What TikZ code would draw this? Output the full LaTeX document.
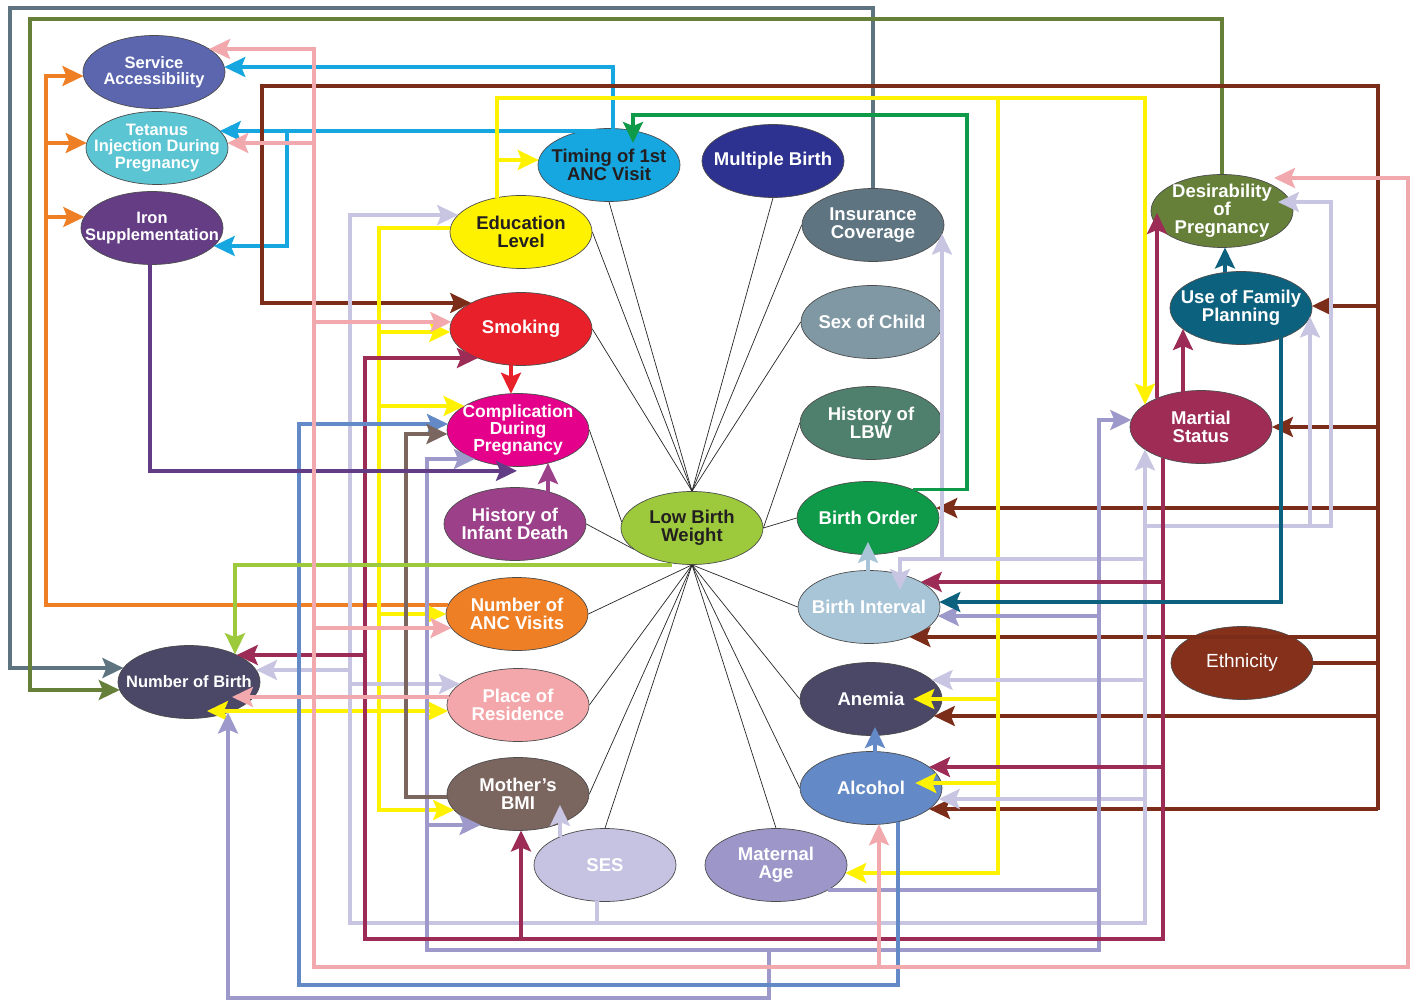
\documentclass[tikz,border=0pt]{standalone}
\usepackage{fontspec}
\setmainfont{Liberation Sans}
\usetikzlibrary{shapes.geometric,arrows.meta,calc,backgrounds}
% line colours
\definecolor{cSlate}{HTML}{5E7480}
\definecolor{cOlive}{HTML}{66803A}
\definecolor{cOrange}{HTML}{EE7F24}
\definecolor{cCyan}{HTML}{16A6E0}
\definecolor{cPink}{HTML}{F2A9AD}
\definecolor{cBrown}{HTML}{7B2D19}
\definecolor{cYellow}{HTML}{FFF200}
\definecolor{cLav}{HTML}{C8C5E3}
\definecolor{cMLav}{HTML}{9D99CA}
\definecolor{cMaroon}{HTML}{9C2B56}
\definecolor{cGreen}{HTML}{0E9A48}
\definecolor{cSteel}{HTML}{6389C6}
\definecolor{cBMI}{HTML}{7A655F}
\definecolor{cIron}{HTML}{623C84}
\definecolor{cTeal}{HTML}{0C627E}
\definecolor{cRed}{HTML}{E8202A}
\definecolor{cHID}{HTML}{9B4089}
\definecolor{cBI}{HTML}{A7C5D7}
\definecolor{cLBW}{HTML}{9DCA3C}
% node fills
\definecolor{fSA}{HTML}{5B66AF}
\definecolor{fTI}{HTML}{5CC5D3}
\definecolor{fIS}{HTML}{643D85}
\definecolor{fMB}{HTML}{2D3190}
\definecolor{fSex}{HTML}{8098A3}
\definecolor{fComp}{HTML}{E5008B}
\definecolor{fHLBW}{HTML}{4F7F6D}
\definecolor{fNoB}{HTML}{4A4767}
\definecolor{fPoR}{HTML}{F4A7AB}
\definecolor{fSES}{HTML}{C6C3E2}
\definecolor{fMA}{HTML}{9C96C9}
\definecolor{fMS}{HTML}{9E2C55}
\definecolor{fEth}{HTML}{84301B}
\definecolor{tDark}{HTML}{231F20}

\makeatletter
\pgfkeys{/bd/.cd, n/.store in=\bd@n, o/.store in=\bd@o, n=LBW, o=0}
\def\bd@rx{71}\def\bd@ry{36.5}
% er/el: point on right/left border at vertical offset o (page pixels, down positive)
\tikzdeclarecoordinatesystem{er}{\pgfkeys{/bd/.cd,#1}%
  \pgfmathsetmacro\bd@a{\bd@rx*sqrt(max(0,1-((\bd@o)/\bd@ry)^2))}%
  \pgfmathsetmacro\bd@b{0-(\bd@o)}%
  \pgfpointadd{\pgfpointanchor{\bd@n}{center}}{\pgfpoint{\bd@a pt}{\bd@b pt}}}
\tikzdeclarecoordinatesystem{el}{\pgfkeys{/bd/.cd,#1}%
  \pgfmathsetmacro\bd@a{0-\bd@rx*sqrt(max(0,1-((\bd@o)/\bd@ry)^2))}%
  \pgfmathsetmacro\bd@b{0-(\bd@o)}%
  \pgfpointadd{\pgfpointanchor{\bd@n}{center}}{\pgfpoint{\bd@a pt}{\bd@b pt}}}
% et/eb: point on top/bottom border at horizontal offset o
\tikzdeclarecoordinatesystem{et}{\pgfkeys{/bd/.cd,#1}%
  \pgfmathsetmacro\bd@a{\bd@o}%
  \pgfmathsetmacro\bd@b{\bd@ry*sqrt(max(0,1-((\bd@o)/\bd@rx)^2))}%
  \pgfpointadd{\pgfpointanchor{\bd@n}{center}}{\pgfpoint{\bd@a pt}{\bd@b pt}}}
\tikzdeclarecoordinatesystem{eb}{\pgfkeys{/bd/.cd,#1}%
  \pgfmathsetmacro\bd@a{\bd@o}%
  \pgfmathsetmacro\bd@b{0-\bd@ry*sqrt(max(0,1-((\bd@o)/\bd@rx)^2))}%
  \pgfpointadd{\pgfpointanchor{\bd@n}{center}}{\pgfpoint{\bd@a pt}{\bd@b pt}}}
\makeatother

\tikzset{
  bub/.style={ellipse, draw=black!70, line width=0.7pt, minimum width=142pt,
    minimum height=73pt, inner sep=-20pt, align=center, text=white,
    font=\bfseries\fontsize{18.5}{18}\selectfont},
  smallf/.style={font=\bfseries\fontsize{16.5}{16.5}\selectfont},
  midf/.style={font=\bfseries\fontsize{17.5}{17}\selectfont},
  spoke/.style={line width=0.7pt, draw=black!85},
  wire/.style={line width=3.3pt, draw=#1},
  arw/.style={line width=3.3pt, draw=#1, -{Stealth[length=21pt,width=20pt,inset=4pt]}},
}

\begin{document}
\begin{tikzpicture}[x=1pt,y=-1pt]
\useasboundingbox (0,0) rectangle (1411,1000);

% ---------- nodes ----------
\node[bub, smallf, fill=fSA] (SA) at (154,72) {Service\\Accessibility};
\node[bub, smallf, fill=fTI] (TI) at (157,148) {Tetanus\\Injection During\\Pregnancy};
\node[bub, smallf, fill=fIS] (IS) at (152,228) {Iron\\Supplementation};
\node[bub, fill=cCyan, text=tDark] (Tim) at (609,165) {Timing of 1st\\ANC Visit};
\node[bub, fill=fMB] (MB) at (773,161) {Multiple Birth};
\node[bub, fill=cSlate] (Ins) at (873,225) {Insurance\\Coverage};
\node[bub, fill=cYellow, text=tDark] (Edu) at (521,232) {Education\\Level};
\node[bub, fill=cRed] (Smk) at (521,329) {Smoking};
\node[bub, fill=fSex] (Sex) at (872,322) {Sex of Child};
\node[bub, midf, fill=fComp] (Comp) at (518,430) {Complication\\During\\Pregnancy};
\node[bub, fill=fHLBW] (HLBW) at (871,423) {History of\\LBW};
\node[bub, fill=cHID] (HID) at (515,524) {History of\\Infant Death};
\node[bub, fill=cLBW, text=tDark] (LBW) at (692,528) {Low Birth\\Weight};
\node[bub, fill=cGreen] (BO) at (868,518) {Birth Order};
\node[bub, fill=cBI] (BI) at (869,607) {Birth Interval};
\node[bub, fill=cOrange] (NANC) at (517,614) {Number of\\ANC Visits};
\node[bub, smallf, fill=fNoB] (NoB) at (189,682) {Number of Birth};
\node[bub, fill=fPoR] (PoR) at (518,705) {Place of\\Residence};
\node[bub, fill=cBMI] (BMI) at (518,794) {Mother’s\\BMI};
\node[bub, fill=fSES] (SES) at (605,865) {SES};
\node[bub, fill=fMA] (MA) at (776,865) {Maternal\\Age};
\node[bub, fill=fNoB] (Anem) at (871,699) {Anemia};
\node[bub, fill=cSteel] (Alc) at (871,788) {Alcohol};
\node[bub, fill=cOlive] (Des) at (1222,211) {Desirability\\of\\Pregnancy};
\node[bub, fill=cTeal] (UFP) at (1241,308) {Use of Family\\Planning};
\node[bub, fill=fMS] (MS) at (1201,427) {Martial\\Status};
\node[bub, fill=fEth, font=\fontsize{19}{19}\selectfont] (Eth) at (1242,663) {Ethnicity};

% ---------- background: spokes to Low Birth Weight ----------
\begin{scope}[on background layer]
\fill[white] (0,0) rectangle (1411,1000);
\foreach \s in {Tim.south, Edu.east, MB.south, Ins.west, Smk.east, Sex.west}
  \draw[spoke] (\s) -- (LBW.north);
\foreach \s in {HLBW.west, BO.west}
  \draw[spoke] (\s) -- (LBW.east);
\draw[spoke] (Comp.east) -- (LBW.175);
\draw[spoke] (HID.east) -- (LBW.200);
\foreach \s in {BI.west, NANC.east, PoR.east, BMI.east, SES.north, MA.north, Anem.west, Alc.west}
  \draw[spoke] (\s) -- (LBW.south);
\end{scope}

% ---------- Insurance Coverage (slate) ----------
\draw[arw=cSlate] (Ins.north) |- (10,8) |- (el cs:n=NoB,o=-14);
% ---------- Desirability (olive) ----------
\draw[arw=cOlive] (Des.north) |- (30,19) |- (el cs:n=NoB,o=8);
% ---------- Number of ANC visits (orange) ----------
\draw[wire=cOrange] (el cs:n=NANC,o=-9) -| (46,76);
\draw[arw=cOrange] (46,90) |- (el cs:n=SA,o=4);
\draw[arw=cOrange] (46,160) |- (el cs:n=TI,o=-5);
\draw[arw=cOrange] (46,230) |- (el cs:n=IS,o=-11);
% ---------- Timing of 1st ANC (cyan) ----------
\draw[arw=cCyan] (et cs:n=Tim,o=4) |- (er cs:n=SA,o=-5);
\draw[arw=cCyan] (et cs:n=Tim,o=-14) |- (er cs:n=TI,o=-17);
\draw[arw=cCyan] (287,131) |- (er cs:n=IS,o=18);
% ---------- Ethnicity (brown) ----------
\draw[wire=cBrown] (Eth.east) -- (1378,663);
\draw[arw=cBrown] (1378,810) -- (1378,86) -- (262,86) |- (el cs:n=Smk,o=-26);
\draw[arw=cBrown] (1378,320) |- (er cs:n=UFP,o=-2);
\draw[arw=cBrown] (1378,440) |- (er cs:n=MS,o=0);
\draw[arw=cBrown] (1378,520) |- (er cs:n=BO,o=-10);
\draw[arw=cBrown] (1378,650) |- (er cs:n=BI,o=30);
\draw[arw=cBrown] (1378,720) |- (er cs:n=Anem,o=17);
\draw[arw=cBrown] (1378,810) |- (er cs:n=Alc,o=21);
% ---------- Education Level (yellow) ----------
\draw[arw=cYellow] (et cs:n=Edu,o=-24) |- (1145,98) -- (et cs:n=MS,o=-56);
\draw[arw=cYellow] (497,175) |- (el cs:n=Tim,o=-5);
\draw[arw=cYellow] (998,98) |- (er cs:n=MA,o=8);
\draw[arw=cYellow] (998,600) |- ($(Anem.east)+(-29,0)$);
\draw[arw=cYellow] (998,700) |- ($(Alc.east)+(-27,-5)$);
\draw[arw=cYellow] (el cs:n=Edu,o=-4) -| (379,810) -- (el cs:n=BMI,o=16);
\draw[arw=cYellow] (379,300) |- (el cs:n=Smk,o=3);
\draw[arw=cYellow] (379,300) |- (el cs:n=Comp,o=-24);
\draw[arw=cYellow] (379,560) |- (el cs:n=NANC,o=0);
\draw[arw=cYellow] (379,650) |- (el cs:n=PoR,o=6);
\draw[arw=cYellow] (379,711) -- ($(NoB.center)+(18,29)$);
% ---------- SES (light lavender) ----------
\draw[arw=cLav] (eb cs:n=SES,o=-8) |- (350,923) |- (el cs:n=Edu,o=-17);
\draw[arw=cLav] (597,923) -| (eb cs:n=MS,o=-56);
\draw[arw=cLav] (1145,540) |- (1331,526) |- ($(Des.center)+(56,-9)$);
\draw[arw=cLav] (1310,526) -- (eb cs:n=UFP,o=69);
\draw[arw=cLav] (1145,570) |- (900,559) -- ($(BI.center)+(31,-17)$);
\draw[arw=cLav] (942,559) -- (eb cs:n=Ins,o=69);
\draw[arw=cLav] (1145,700) |- (er cs:n=Anem,o=-19);
\draw[arw=cLav] (1145,820) |- (er cs:n=Alc,o=11);
\draw[arw=cLav] (350,600) |- (er cs:n=NoB,o=-12);
\draw[arw=cLav] (350,600) |- (el cs:n=PoR,o=-21);
\draw[arw=cLav] (et cs:n=SES,o=-45) -- ($(BMI.center)+(42,11)$);
% ---------- Maternal Age (medium lavender) ----------
\draw[arw=cMLav] (er cs:n=MA,o=25) -| (1099,420) -- (el cs:n=MS,o=-7);
\draw[arw=cMLav] (1099,890) |- (427,950) |- (el cs:n=Comp,o=29);
\draw[arw=cMLav] (427,900) |- (el cs:n=BMI,o=31);
\draw[arw=cMLav] (1099,700) |- (er cs:n=BI,o=9);
\draw[arw=cMLav] (769,950) |- (228,998) -- (eb cs:n=NoB,o=39);
% ---------- Martial Status (maroon) ----------
\draw[arw=cMaroon] (et cs:n=MS,o=-44) -- ($(Des.center)+(-65,2)$);
\draw[arw=cMaroon] (et cs:n=MS,o=-18) -- (eb cs:n=UFP,o=-58);
\draw[arw=cMaroon] (eb cs:n=MS,o=-38) |- (365,939) |- (el cs:n=Smk,o=29);
\draw[arw=cMaroon] (365,700) |- (er cs:n=NoB,o=-27);
\draw[arw=cMaroon] (521,939) -- (eb cs:n=BMI,o=3);
\draw[arw=cMaroon] (1163,700) |- (er cs:n=BI,o=-25);
\draw[arw=cMaroon] (1163,900) |- (er cs:n=Alc,o=-21);
% ---------- Birth Order (green) ----------
\draw[arw=cGreen] (et cs:n=BO,o=45) -| (967,115) -| ($(Tim.center)+(24,-22)$);
% ---------- Alcohol (steel blue) ----------
\draw[arw=cSteel] (eb cs:n=Alc,o=27) |- (299,985) |- (el cs:n=Comp,o=-6);
\draw[arw=cSteel] (et cs:n=Alc,o=4) -- ($(Anem.center)+(4,28)$);
% ---------- Mother's BMI ----------
\draw[arw=cBMI] (el cs:n=BMI,o=3) -| (406,434) -- (el cs:n=Comp,o=4);
% ---------- Iron Supplementation ----------
\draw[arw=cIron] (eb cs:n=IS,o=-2) |- ($(Comp.south)+(-1,4)$);
% ---------- Use of Family Planning (teal) ----------
\draw[arw=cTeal] (eb cs:n=UFP,o=40) |- (er cs:n=BI,o=-5);
\draw[arw=cTeal] (et cs:n=UFP,o=-16) -- (eb cs:n=Des,o=3);
% ---------- short links ----------
\draw[arw=cRed] (eb cs:n=Smk,o=-10) -- (et cs:n=Comp,o=-7);
\draw[arw=cHID] (et cs:n=HID,o=33) -- (eb cs:n=Comp,o=30);
\draw[arw=cBI] (et cs:n=BI,o=-1) -- ($(BO.south)+(0,-13)$);
% ---------- Low Birth Weight ----------
\draw[arw=cLBW] (eb cs:n=LBW,o=-22) |- (235,565) -- (et cs:n=NoB,o=46);
% ---------- Place of Residence (pink) ----------
\draw[wire=cPink] (314,49) -- (314,967) -| (1408,178);
\draw[arw=cPink] (314,100) |- (er cs:n=SA,o=-23);
\draw[arw=cPink] (314,200) |- (er cs:n=TI,o=-5);
\draw[arw=cPink] (314,250) |- (el cs:n=Smk,o=-7);
\draw[arw=cPink] (314,500) |- (el cs:n=NANC,o=14);
\draw[arw=cPink] (1408,300) |- ($(Des.center)+(52,-33)$);
\draw[arw=cPink] (879,967) -- (eb cs:n=Alc,o=8);
\draw[arw=cPink] (el cs:n=PoR,o=-8) -- ($(NoB.center)+(43,15)$);
\end{tikzpicture}
\end{document}
